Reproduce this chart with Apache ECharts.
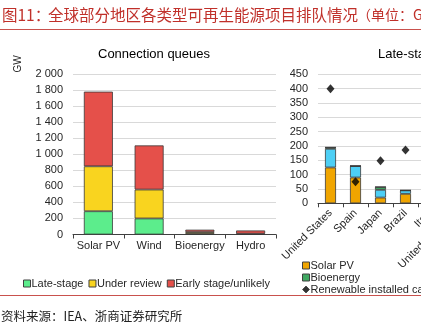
<!DOCTYPE html>
<html><head><meta charset="utf-8">
<script src="https://cdn.jsdelivr.net/npm/echarts@6/dist/echarts.min.js"></script>
<style>html,body{margin:0;padding:0;background:#fff;overflow:hidden;width:421px;height:323px}#c{width:560px;height:323px}</style>
</head><body><div id="c"></div>
<script>
// Left chart: connection queues by technology (GW)
const techCategories = ['Solar PV', 'Wind', 'Bioenergy', 'Hydro'];
const lateStage = [290, 200, 8, 3];
const underReview = [560, 360, 22, 7];
const earlyStage = [930, 550, 30, 40];
const leftTicks = [0, 200, 400, 600, 800, 1000, 1200, 1400, 1600, 1800, 2000];

// Right chart: late-stage queues by country (GW)
const countries = ['United States', 'Spain', 'Japan', 'Brazil', 'Italy', 'United Kingdom'];
const solarPV = [125, 90, 20, 33, null, null];
const wind = [65, 40, 27, 12, null, null];
const bioenergy = [5, 0, 10, 0, null, null];
const hydro = [0, 0, 0, 0, null, null];
const installedCapacity = [400, 75, 148, 186, null, null];
const rightTicks = [0, 50, 100, 150, 200, 250, 300, 350, 400, 450];

const FONT = '"Liberation Sans", Arial, sans-serif';
const CJK = '"Noto Sans CJK SC", sans-serif';
const border = { borderColor: '#3a3a3a', borderWidth: 0.8 };

const chart = echarts.init(document.getElementById('c'), null, { renderer: 'canvas' });
chart.setOption({
  animation: false,
  backgroundColor: '#fff',
  textStyle: { fontFamily: FONT },
  grid: [
    { left: 73, top: 74, width: 203, height: 160.5, outerBoundsMode: 'none' },
    { left: 318, top: 74.3, width: 25 * countries.length, height: 129, outerBoundsMode: 'none' }
  ],
  xAxis: [
    { type: 'category', gridIndex: 0, data: techCategories,
      axisLine: { lineStyle: { color: '#404040', width: 1 } },
      axisTick: { show: true, length: 4, lineStyle: { color: '#404040' } },
      axisLabel: { color: '#262626', fontSize: 11, margin: 6, interval: 0, fontFamily: FONT } },
    { type: 'category', gridIndex: 1, data: countries,
      axisLine: { lineStyle: { color: '#404040', width: 1 } },
      axisTick: { show: true, length: 4, lineStyle: { color: '#404040' } },
      axisLabel: { color: '#262626', fontSize: 11, margin: 8, rotate: 45, interval: 0, fontFamily: FONT } }
  ],
  yAxis: [
    { type: 'value', gridIndex: 0, min: leftTicks[0], max: leftTicks[leftTicks.length - 1], interval: 200,
      axisLine: { show: false }, axisTick: { show: false },
      splitLine: { lineStyle: { color: '#d9d9d9' } },
      axisLabel: { color: '#262626', fontSize: 11, margin: 10, fontFamily: FONT,
        formatter: v => v >= 1000 ? Math.floor(v / 1000) + ' ' + String(v % 1000).padStart(3, '0') : String(v) } },
    { type: 'value', gridIndex: 1, min: rightTicks[0], max: rightTicks[rightTicks.length - 1], interval: 50,
      axisLine: { show: false }, axisTick: { show: false },
      splitLine: { lineStyle: { color: '#d9d9d9' } },
      axisLabel: { color: '#262626', fontSize: 11, margin: 10, fontFamily: FONT } }
  ],
  legend: [
    { data: ['Late-stage', 'Under review', 'Early stage/unlikely'], left: 18, top: 273,
      icon: 'rect', itemWidth: 7, itemHeight: 7, itemGap: 5,
      itemStyle: { borderColor: '#404040', borderWidth: 1 },
      textStyle: { fontSize: 11, color: '#262626', fontFamily: FONT, padding: [0, 0, 0, -4] } },
    { data: [{ name: 'Solar PV', icon: 'rect' }, { name: 'Bioenergy', icon: 'rect' }, { name: 'Renewable installed capacity', icon: 'diamond' }],
      orient: 'vertical', left: 297, top: 255, itemWidth: 7, itemHeight: 7, itemGap: 1,
      itemStyle: { borderColor: '#404040', borderWidth: 1 },
      textStyle: { fontSize: 11, color: '#262626', fontFamily: FONT, padding: [0, 0, 0, -4] } },
    { data: [{ name: 'Wind', icon: 'rect' }, { name: 'Hydro', icon: 'rect' }],
      orient: 'vertical', left: 445, top: 255, itemWidth: 7, itemHeight: 7, itemGap: 1,
      itemStyle: { borderColor: '#404040', borderWidth: 1 },
      textStyle: { fontSize: 11, color: '#262626', fontFamily: FONT, padding: [0, 0, 0, -4] } }
  ],
  series: [
    { name: 'Late-stage', type: 'bar', stack: 'q', xAxisIndex: 0, yAxisIndex: 0, barWidth: 29, data: lateStage,
      itemStyle: Object.assign({ color: '#5ced8c' }, border) },
    { name: 'Under review', type: 'bar', stack: 'q', xAxisIndex: 0, yAxisIndex: 0, barWidth: 29, data: underReview,
      itemStyle: Object.assign({ color: '#f9d41f' }, border) },
    { name: 'Early stage/unlikely', type: 'bar', stack: 'q', xAxisIndex: 0, yAxisIndex: 0, barWidth: 29, data: earlyStage,
      itemStyle: Object.assign({ color: '#e5504a' }, border) },
    { name: 'Solar PV', type: 'bar', stack: 'c', xAxisIndex: 1, yAxisIndex: 1, barWidth: 11, data: solarPV,
      itemStyle: Object.assign({ color: '#f0a500' }, border) },
    { name: 'Wind', type: 'bar', stack: 'c', xAxisIndex: 1, yAxisIndex: 1, barWidth: 11, data: wind,
      itemStyle: Object.assign({ color: '#4dcff5' }, border) },
    { name: 'Bioenergy', type: 'bar', stack: 'c', xAxisIndex: 1, yAxisIndex: 1, barWidth: 11, data: bioenergy,
      itemStyle: Object.assign({ color: '#40a862' }, border) },
    { name: 'Hydro', type: 'bar', stack: 'c', xAxisIndex: 1, yAxisIndex: 1, barWidth: 11, data: hydro,
      itemStyle: Object.assign({ color: '#1f4e79' }, border) },
    { name: 'Renewable installed capacity', type: 'scatter', xAxisIndex: 1, yAxisIndex: 1, data: installedCapacity,
      symbol: 'diamond', symbolSize: [8, 9], itemStyle: { color: '#000' } }
  ],
  graphic: [
    { type: 'text', x: 2, y: 15, style: { text: '图11：', font: '15.5px ' + CJK, fill: '#c0302a', verticalAlign: 'middle' } },
    { type: 'text', x: 48, y: 15, style: { text: '全球部分地区各类型可再生能源项目排队情况', font: '15.5px ' + CJK, fill: '#c0302a', verticalAlign: 'middle' } },
    { type: 'text', x: 357, y: 15, style: { text: '（单位：GW）', font: '14px ' + CJK, fill: '#c0302a', verticalAlign: 'middle' } },
    { type: 'line', shape: { x1: 0, y1: 29.5, x2: 560, y2: 29.5 }, style: { stroke: '#c9514d', lineWidth: 1 } },
    { type: 'line', shape: { x1: 0, y1: 295.5, x2: 560, y2: 295.5 }, style: { stroke: '#c9514d', lineWidth: 1 } },
    { type: 'text', x: 1, y: 316, style: { text: '资料来源：IEA、浙商证券研究所', font: '12.5px ' + CJK, fill: '#222', verticalAlign: 'middle' } },
    { type: 'text', x: 98, y: 54, style: { text: 'Connection queues', font: '13px ' + FONT, fill: '#000', verticalAlign: 'middle' } },
    { type: 'text', x: 378, y: 54, style: { text: 'Late-stage queues', font: '13px ' + FONT, fill: '#000', verticalAlign: 'middle' } },
    { type: 'text', x: 18, y: 64, rotation: Math.PI / 2, style: { text: 'GW', font: '10px ' + FONT, fill: '#262626', align: 'center', verticalAlign: 'middle' } }
  ]
});
</script></body></html>
